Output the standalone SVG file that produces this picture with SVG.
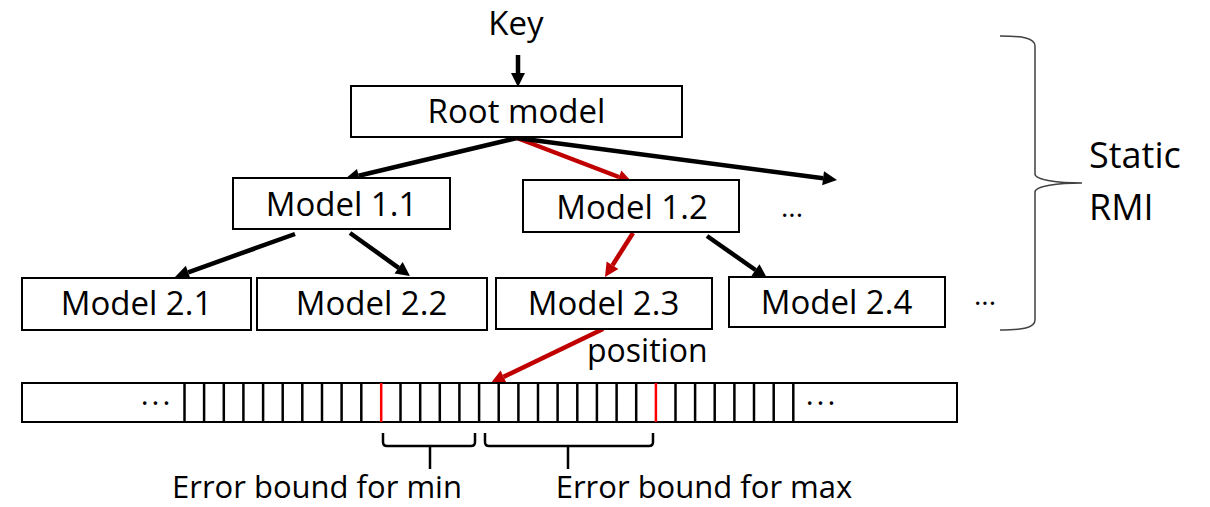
<svg xmlns="http://www.w3.org/2000/svg" width="1210" height="507" viewBox="0 0 1210 507">
<defs>
<style>
.box{fill:#fff;stroke:#000;stroke-width:2}
.t{font-family:"Open Sans","Liberation Sans",sans-serif;font-size:33px;fill:#000}
.s{font-family:"Open Sans","Liberation Sans",sans-serif;font-size:32px;fill:#000}
.blk{stroke:#000;stroke-width:4.5;fill:none}
.red{stroke:#C00000;stroke-width:4.5;fill:none}
.tick{stroke:#000;stroke-width:2.5}
.rtick{stroke:#FF0000;stroke-width:2.5}
.brk{stroke:#000;stroke-width:2.5;fill:none}
</style>
<marker id="ab" markerUnits="userSpaceOnUse" markerWidth="16" markerHeight="16" viewBox="0 -8 15 16" refX="0" refY="0" orient="auto"><path d="M0,-7 L14,0 L0,7 z" fill="#000"/></marker>
<marker id="ar" markerUnits="userSpaceOnUse" markerWidth="16" markerHeight="16" viewBox="0 -8 15 16" refX="0" refY="0" orient="auto"><path d="M0,-7 L14,0 L0,7 z" fill="#C00000"/></marker>
</defs>
<rect width="1210" height="507" fill="#fff"/>

<g id="connectors">
<path class="blk" d="M518,55 L518,73" marker-end="url(#ab)"/>
<path class="blk" d="M517,138 L358.6,175.8" marker-end="url(#ab)"/>
<path class="red" d="M517,138 L618.9,177" marker-end="url(#ar)"/>
<path class="blk" d="M517,138 L823.1,178.2" marker-end="url(#ab)"/>
<path class="blk" d="M295,234 L188.2,272.3" marker-end="url(#ab)"/>
<path class="blk" d="M350,233 L398.6,267.8" marker-end="url(#ab)"/>
<path class="red" d="M633,233 L612.5,265.2" marker-end="url(#ar)"/>
<path class="blk" d="M707,236 L755.5,270" marker-end="url(#ab)"/>
<path class="red" d="M603,329 L503.6,376.9" marker-end="url(#ar)"/>
</g>

<text class="t" x="516" y="35" text-anchor="middle">Key</text>

<g id="root"><rect class="box" x="351" y="86" width="331" height="51"/><text class="t" x="516.5" y="123" text-anchor="middle">Root model</text></g>
<g id="m11"><rect class="box" x="233" y="178" width="217" height="51"/><text class="t" x="341.5" y="216" text-anchor="middle">Model 1.1</text></g>
<g id="m12"><rect class="box" x="523" y="180" width="216" height="52"/><text class="t" x="632" y="219" text-anchor="middle">Model 1.2</text></g>
<text class="t" x="792" y="217" text-anchor="middle" style="font-size:28px">...</text>
<g id="m21"><rect class="box" x="22" y="278" width="229" height="52"/><text class="t" x="136.5" y="315" text-anchor="middle">Model 2.1</text></g>
<g id="m22"><rect class="box" x="257" y="278" width="230" height="52"/><text class="t" x="371.5" y="315" text-anchor="middle">Model 2.2</text></g>
<g id="m23"><rect class="box" x="496" y="278" width="216" height="51"/><text class="t" x="603.5" y="315" text-anchor="middle">Model 2.3</text></g>
<g id="m24"><rect class="box" x="729" y="277" width="216" height="50"/><text class="t" x="836.5" y="314" text-anchor="middle">Model 2.4</text></g>
<text class="t" x="985" y="305" text-anchor="middle" style="font-size:28px">...</text>

<text class="s" x="587" y="362">position</text>

<g id="array">
<rect class="box" x="22" y="383" width="935" height="39"/>
<text class="s" x="157" y="405" text-anchor="middle" style="font-size:30px" letter-spacing="3">...</text>
<text class="s" x="822" y="405" text-anchor="middle" style="font-size:30px" letter-spacing="3">...</text>
<g class="tick">
<line x1="184.5" y1="383" x2="184.5" y2="422"/><line x1="204.1" y1="383" x2="204.1" y2="422"/><line x1="223.8" y1="383" x2="223.8" y2="422"/><line x1="243.4" y1="383" x2="243.4" y2="422"/><line x1="263.1" y1="383" x2="263.1" y2="422"/><line x1="282.7" y1="383" x2="282.7" y2="422"/><line x1="302.3" y1="383" x2="302.3" y2="422"/><line x1="322" y1="383" x2="322" y2="422"/><line x1="341.6" y1="383" x2="341.6" y2="422"/><line x1="361.3" y1="383" x2="361.3" y2="422"/>
<line x1="400.5" y1="383" x2="400.5" y2="422"/><line x1="420.2" y1="383" x2="420.2" y2="422"/><line x1="439.8" y1="383" x2="439.8" y2="422"/><line x1="459.4" y1="383" x2="459.4" y2="422"/><line x1="479.1" y1="383" x2="479.1" y2="422"/><line x1="498.7" y1="383" x2="498.7" y2="422"/><line x1="518.4" y1="383" x2="518.4" y2="422"/><line x1="538" y1="383" x2="538" y2="422"/><line x1="557.6" y1="383" x2="557.6" y2="422"/><line x1="577.3" y1="383" x2="577.3" y2="422"/><line x1="596.9" y1="383" x2="596.9" y2="422"/><line x1="616.6" y1="383" x2="616.6" y2="422"/><line x1="636.2" y1="383" x2="636.2" y2="422"/>
<line x1="675.5" y1="383" x2="675.5" y2="422"/><line x1="695.1" y1="383" x2="695.1" y2="422"/><line x1="714.7" y1="383" x2="714.7" y2="422"/><line x1="734.4" y1="383" x2="734.4" y2="422"/><line x1="754" y1="383" x2="754" y2="422"/><line x1="773.7" y1="383" x2="773.7" y2="422"/><line x1="793.3" y1="383" x2="793.3" y2="422"/>
</g>
<line class="rtick" x1="381.2" y1="383" x2="381.2" y2="422"/>
<line class="rtick" x1="655.9" y1="383" x2="655.9" y2="422"/>
</g>

<g id="brackets">
<path class="brk" d="M383,433 L383,442 Q383,446 387,446 L471,446 Q475,446 475,442 L475,433 M430,446 L430,469"/>
<path class="brk" d="M485,433 L485,442 Q485,446 489,446 L649,446 Q653,446 653,442 L653,433 M568,446 L568,469"/>
</g>
<text class="s" x="317" y="498" text-anchor="middle" style="font-size:31px">Error bound for min</text>
<text class="s" x="704" y="498" text-anchor="middle" style="font-size:31px">Error bound for max</text>

<g id="brace">
<path d="M1000,36 C1022,36 1035,38 1035,46 L1035,174 C1035,180 1058,183 1082,183 C1058,183 1035,186 1035,192 L1035,320 C1035,328 1022,330 1000,330" fill="none" stroke="#404040" stroke-width="1.5"/>
</g>
<text class="s" x="1089" y="168" style="font-size:36px">Static</text>
<text class="s" x="1089" y="220" style="font-size:36px">RMI</text>
</svg>
